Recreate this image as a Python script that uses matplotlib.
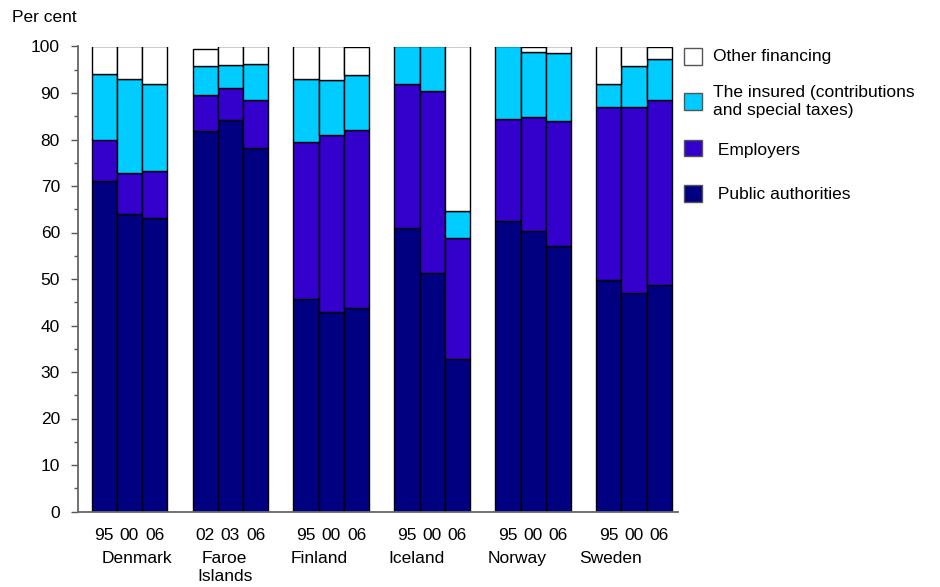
import matplotlib
matplotlib.use("Agg")
import matplotlib.pyplot as plt
from matplotlib.patches import Rectangle
import numpy as np

plt.rcParams['font.family'] = ['Liberation Sans', 'DejaVu Sans']

countries = ["Denmark", "Faroe\nIslands", "Finland", "Iceland", "Norway", "Sweden"]
years = [["95", "00", "06"], ["02", "03", "06"], ["95", "00", "06"],
         ["95", "00", "06"], ["95", "00", "06"], ["95", "00", "06"]]

public = [71.0, 64.0, 63.1, 81.9, 84.2, 78.1, 45.6, 42.9, 43.7,
          60.9, 51.3, 32.7, 62.4, 60.4, 57.0, 49.8, 46.9, 48.8]
employers = [9.0, 8.8, 10.2, 7.7, 6.9, 10.3, 33.8, 38.0, 38.4,
             31.0, 39.2, 26.2, 22.1, 24.4, 26.9, 37.1, 40.1, 39.8]
insured = [14.0, 20.2, 18.7, 6.2, 5.0, 7.9, 13.7, 12.0, 11.8,
           8.1, 9.5, 5.8, 15.5, 14.1, 14.7, 5.0, 8.9, 8.8]
other = [6.0, 7.0, 8.0, 3.6, 3.9, 3.7, 6.9, 7.1, 6.1,
         0.0, 0.0, 35.3, 0.0, 1.1, 1.4, 8.1, 4.1, 2.6]

colors = {"public": "#000080", "employers": "#3300CC", "insured": "#00CCFF", "other": "#FFFFFF"}

FS = 12.5
fig = plt.figure(figsize=(9.4, 5.87), dpi=100)
W, H = 940, 587
ax = fig.add_axes([78 / W, (H - 511.5) / H, 600 / W, (511.5 - 46.5) / H])

xs = []
for g in range(len(countries)):
    for b in range(3):
        xs.append(g * 4 + b)
xs = np.array(xs, dtype=float)

pub = np.array(public)
emp = np.array(employers)
ins = np.array(insured)
oth = np.array(other)

kw = dict(width=1.0, edgecolor="black", linewidth=1.0)
ax.bar(xs, pub, color=colors["public"], **kw)
ax.bar(xs, emp, bottom=pub, color=colors["employers"], **kw)
ax.bar(xs, ins, bottom=pub + emp, color=colors["insured"], **kw)
mask = oth > 0
ax.bar(xs[mask], oth[mask], bottom=(pub + emp + ins)[mask], color=colors["other"], **kw)

ax.set_xlim(-1.04, 22.74)
ax.set_ylim(0, 100)
ax.set_yticks(np.arange(0, 101, 10))
ax.set_yticks(np.arange(5, 100, 10), minor=True)
ax.tick_params(axis="y", which="major", length=5, width=1, color="#555555",
               labelsize=FS, pad=8)
ax.tick_params(axis="y", which="minor", length=3, width=1, color="#555555")
ax.set_xticks(xs)
ax.set_xticklabels([y for grp in years for y in grp], fontsize=FS)
ax.tick_params(axis="x", length=0, pad=12)

for s in ["top", "right"]:
    ax.spines[s].set_visible(False)
for s in ["left", "bottom"]:
    ax.spines[s].set_color("#666666")
    ax.spines[s].set_linewidth(1.3)

name_offsets = [0.29, -0.23, -0.47, -0.63, -0.63, -0.95]
for g, name in enumerate(countries):
    ax.text(g * 4 + 1 + name_offsets[g], -8.4, name, ha="center", va="top",
            fontsize=FS, linespacing=1.3)

fig.text(12 / W, 1 - 18 / H, "Per cent", fontsize=FS, va="center", ha="left")

# legend
leg = [("other", "Other financing", 48.3, 57, 713),
       ("insured", "The insured (contributions\nand special taxes)", 93.3, 101.5, 713),
       ("employers", " Employers", 140, 150.5, 713),
       ("public", " Public authorities", 185, 195, 713)]
for key, label, ytop, ytext, xt in leg:
    r = Rectangle((683.5 / W, 1 - (ytop + 16.5) / H), 18.5 / W, 16.5 / H,
                  transform=fig.transFigure, facecolor=colors[key],
                  edgecolor="#555555", linewidth=1.0)
    fig.add_artist(r)
    fig.text(xt / W, 1 - ytext / H, label, fontsize=FS, va="center", ha="left",
             linespacing=1.3)

fig.savefig("out.png", dpi=100)
